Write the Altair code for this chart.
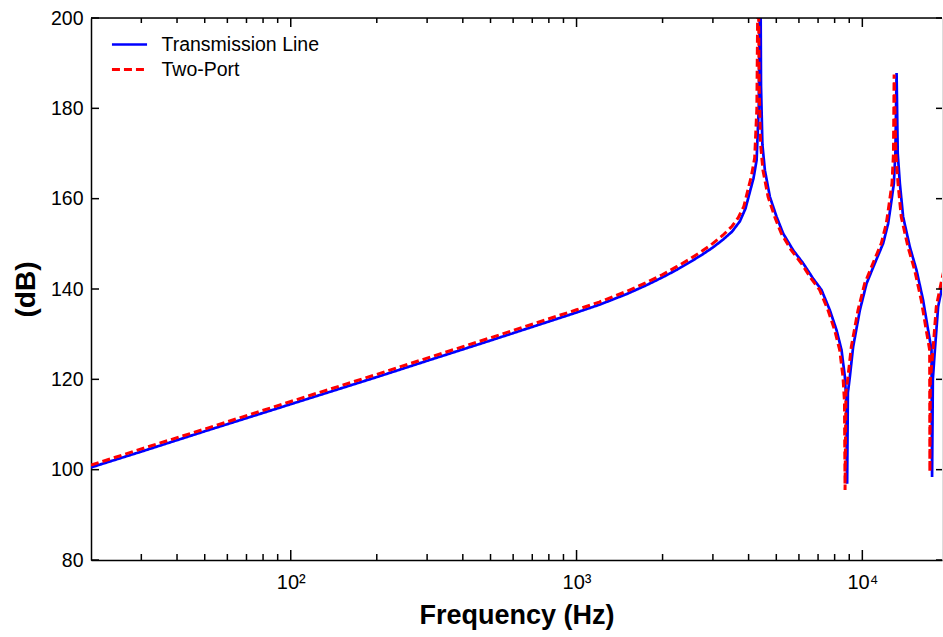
import altair as alt
import pandas as pd

series_names = ["Transmission Line", "Two-Port"]
series_colors = ["#0000ff", "#ff0000"]

# Transmission Line (blue, solid)
freq_tl = [20, 30, 50, 100, 200, 300, 500, 1000, 1200, 1500,
           1750, 2000, 2250, 2500, 2750, 3000, 3250, 3500, 3729, 3900,
           4041, 4160, 4266, 4340, 4397, 4420, 4470, 4560, 4748, 5010,
           5283, 5726, 6207, 6727, 7197, 7698, 8123, 8456, 8686, 8790,
           8848, 8900, 9044, 9286, 9802, 10344, 11060, 11828, 12312, 12656,
           12892, 13050, 13177, 13300, 13530, 13888, 14665, 15470, 16320, 16990,
           17460, 17540, 17650, 17940, 18420, 19130, 19720]
db_tl = [100.5, 104.0, 108.5, 114.5, 120.5, 124.1, 128.6, 134.8, 136.5, 138.9,
         140.8, 142.6, 144.3, 146.0, 147.6, 149.2, 150.9, 152.7, 155.0, 157.8,
         161.5, 164.5, 168.5, 180, 215, 185, 172, 166.3, 160.4, 156.0,
         152.3, 148.6, 145.7, 142.3, 139.8, 135.3, 130.9, 126.5, 120.6, 115,
         96.9, 117, 120.6, 127.2, 135.3, 141.2, 145.7, 150.1, 154.5, 159.7,
         163.4, 170, 187.8, 170, 163.4, 156.0, 149.3, 144.2, 137.5, 130.9,
         126.5, 98.4, 120, 126.5, 136.1, 141.2, 145]

# Two-Port (red, dashed)
freq_tp = [20, 30, 50, 100, 200, 300, 500, 1000, 1200, 1500,
           1750, 2000, 2250, 2500, 2750, 3000, 3250, 3500, 3680, 3850,
           3980, 4090, 4200, 4275, 4321, 4355, 4405, 4490, 4680, 4935,
           5205, 5640, 6115, 6625, 7090, 7585, 8000, 8330, 8555, 8660,
           8700, 8760, 8910, 9150, 9655, 10190, 10895, 11650, 12130, 12465,
           12700, 12850, 12920, 13100, 13330, 13680, 14445, 15240, 16075, 16735,
           17200, 17230, 17300, 17670, 18145, 18845, 19430]
db_tp = [101.0, 104.6, 109.0, 115.1, 121.1, 124.7, 129.2, 135.4, 137.1, 139.5,
         141.4, 143.2, 145.0, 146.7, 148.4, 150.1, 151.9, 153.9, 155.8, 158.3,
         162.0, 165.0, 169, 180, 215, 185, 172, 166.3, 160.4, 156.0,
         152.3, 148.6, 145.7, 142.3, 139.8, 135.3, 130.9, 126.5, 120.6, 115,
         95.5, 117, 120.6, 127.2, 135.3, 141.2, 145.7, 150.1, 154.5, 159.7,
         163.4, 170, 187.5, 170, 163.4, 156.0, 149.3, 144.2, 137.5, 130.9,
         126.5, 99.5, 120, 126.5, 136.1, 141.2, 145]

x_major = [100, 1000, 10000]
x_major_labels = ["10²", "10³", "10⁴"]
x_minor = [30, 40, 50, 60, 70, 80, 90, 200, 300, 400, 500, 600, 700, 800, 900,
           2000, 3000, 4000, 5000, 6000, 7000, 8000, 9000]
y_ticks = [80, 100, 120, 140, 160, 180, 200]

W, H = 851, 542
FONT = "Liberation Sans"

df = pd.concat([
    pd.DataFrame({"freq": freq_tl, "db": db_tl, "series": series_names[0]}),
    pd.DataFrame({"freq": freq_tp, "db": db_tp, "series": series_names[1]}),
])

label_expr = ""
for v, lab in zip(x_major[:-1], x_major_labels[:-1]):
    label_expr += f"datum.value == {v} ? '{lab}' : "
label_expr += f"'{x_major_labels[-1]}'"

legend = alt.Legend(
    title=None, orient="none", legendX=23.5, legendY=11.5,
    symbolType="M-1.3,0H1.3", symbolSize=729, symbolStrokeWidth=2.6,
    labelFont=FONT, labelFontSize=19.5, labelColor="black", labelOffset=17,
    rowPadding=0, padding=0,
)

xs = alt.Scale(type="log", domain=[20, 19000], nice=False)
ys = alt.Scale(domain=[80, 200], nice=False, zero=False)

lines = alt.Chart(df).mark_line(clip=True).encode(
    x=alt.X("freq:Q", scale=xs, axis=alt.Axis(
        values=x_major, labelExpr=label_expr, title="Frequency (Hz)", ticks=False, grid=False,
        labelFont=FONT, labelFontSize=20, labelPadding=12, labelColor="black",
        titleFont=FONT, titleFontSize=27, titleFontWeight="bold", titlePadding=10, titleColor="black",
        domainColor="black", domainWidth=1.5)),
    y=alt.Y("db:Q", scale=ys, axis=alt.Axis(
        values=y_ticks, title="(dB)", ticks=False, grid=False,
        labelFont=FONT, labelFontSize=19.5, labelPadding=8, labelColor="black",
        titleFont=FONT, titleFontSize=28, titleFontWeight="bold", titlePadding=10, titleColor="black",
        domainColor="black", domainWidth=1.5)),
    color=alt.Color("series:N", scale=alt.Scale(domain=series_names, range=series_colors), legend=legend),
    strokeDash=alt.StrokeDash("series:N", scale=alt.Scale(domain=series_names, range=[[1, 0], [8, 4]]), legend=legend),
    strokeWidth=alt.StrokeWidth("series:N", scale=alt.Scale(domain=series_names, range=[2.7, 3]), legend=None),
    detail="series:N",
)

tick_style = dict(color="black", strokeWidth=1.5)
xmaj = pd.DataFrame({"freq": x_major})
xmin = pd.DataFrame({"freq": x_minor})
yt = pd.DataFrame({"db": y_ticks})

bot_major = alt.Chart(xmaj).mark_rule(**tick_style).encode(x="freq:Q", y=alt.value(H), y2=alt.value(H - 10))
bot_minor = alt.Chart(xmin).mark_rule(**tick_style).encode(x="freq:Q", y=alt.value(H), y2=alt.value(H - 6))
top_major = alt.Chart(xmaj).mark_rule(**tick_style).encode(x="freq:Q", y=alt.value(0), y2=alt.value(9))
top_minor = alt.Chart(xmin).mark_rule(**tick_style).encode(x="freq:Q", y=alt.value(0), y2=alt.value(5))
left_t = alt.Chart(yt).mark_rule(**tick_style).encode(y="db:Q", x=alt.value(0), x2=alt.value(8))
right_t = alt.Chart(yt).mark_rule(**tick_style).encode(y="db:Q", x=alt.value(W - 6), x2=alt.value(W))
top_line = alt.Chart(pd.DataFrame({"a": [0]})).mark_rule(color="black", strokeWidth=1.5).encode(
    x=alt.value(0), x2=alt.value(W), y=alt.value(0))

chart = alt.layer(lines, bot_major, bot_minor, top_major, top_minor, left_t, right_t, top_line).properties(
    width=W, height=H,
    autosize=alt.AutoSizeParams(type="none"),
    padding={"left": 91, "top": 18, "right": 1, "bottom": 77},
).configure_view(stroke=None).configure(background="white")

chart.save("out.html", embed_options={"renderer": "svg", "actions": False})
